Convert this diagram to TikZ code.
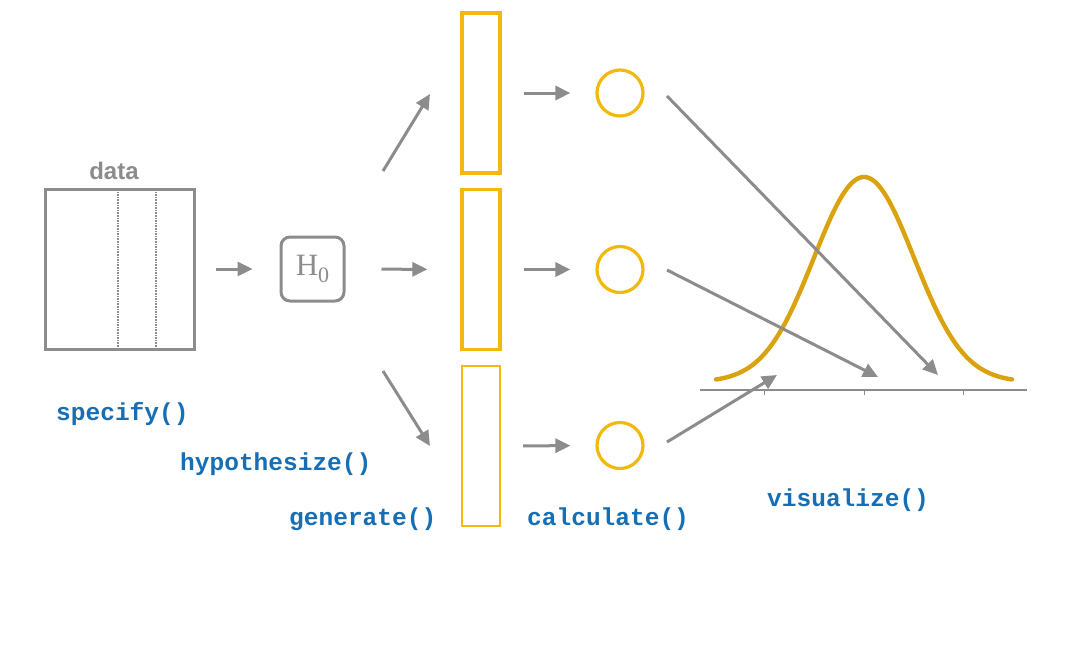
\documentclass[tikz,border=0pt]{standalone}
\usepackage{fontspec}
\setmainfont{Liberation Serif}
\newfontfamily\codefont{Liberation Mono}
\newfontfamily\labelfont{Liberation Sans}
\usetikzlibrary{arrows.meta}
\definecolor{flowgray}{RGB}{140,140,140}
\definecolor{sampleyellow}{RGB}{243,184,12}
\definecolor{curvegold}{RGB}{218,163,14}
\definecolor{codeblue}{RGB}{22,110,180}
\begin{document}
\begin{tikzpicture}[x=1pt,y=-1pt,
  flow/.style={draw=flowgray,line width=3pt,-{Triangle[length=15pt,width=14pt]}},
  sample/.style={draw=sampleyellow,line width=3.2pt,minimum width=38pt,minimum height=160pt,inner sep=0pt},
  stat/.style={circle,draw=sampleyellow,line width=3.2pt,minimum size=46pt,inner sep=0pt},
  code/.style={text=codeblue,font=\codefont\bfseries\fontsize{24.5}{26}\selectfont,inner sep=0pt,anchor=west}]
\useasboundingbox (0,0) rectangle (1080,662);

% data table
\node[draw=flowgray,line width=3pt,minimum width=149pt,minimum height=160pt,inner sep=0pt] (data) at (119.5,269) {};
\draw[flowgray,line width=1.6pt,densely dotted] (118,189) -- (118,349) (156,189) -- (156,349) (118,189) -- (156,189) (118,349) -- (156,349);
\node[text=flowgray,font=\labelfont\bfseries\fontsize{24}{25}\selectfont,inner sep=0pt] (datalbl) at (114,171) {data};

% null hypothesis
\node[draw=flowgray,line width=3pt,rounded corners=9pt,minimum width=63pt,minimum height=64pt,inner sep=0pt,
      text=flowgray,font=\fontsize{31}{32}\selectfont] (h0) at (312.5,269)
      {H\raisebox{-0.22em}{\fontsize{22}{22}\selectfont 0}};
\draw[flow,shorten <=20pt,shorten >=27pt] (data.east) -- (h0.west);

% generated samples
\node[sample] (s1) at (481,93) {};
\node[sample] (s2) at (481,269.5) {};
\node[sample,line width=2.2pt] (s3) at (481,446) {};

\coordinate (u0) at (383,171); \coordinate (u1) at (430,94);
\coordinate (d0) at (383,371); \coordinate (d1) at (430,446);
\draw[flow] (u0) -- (u1);
\draw[flow,shorten <=36pt,shorten >=33pt] (h0.east) -- (s2.west);
\draw[flow] (d0) -- (d1);

% statistics
\node[stat] (c1) at (620,93) {};
\node[stat] (c2) at (620,269.5) {};
\node[stat] (c3) at (620,445.5) {};
\draw[flow,shorten <=22pt,shorten >=25pt] (s1.east) -- (c1.west);
\draw[flow,shorten <=22pt,shorten >=25pt] (s2.east) -- (c2.west);
\draw[flow,shorten <=22pt,shorten >=25pt] (s3.east) -- (c3.west);

% null distribution
\coordinate (axl) at (700,390); \coordinate (axr) at (1027,390);
\draw[flowgray,line width=2pt] (axl) -- (axr);
\foreach \t in {764,864,963} \draw[flowgray,line width=1pt] (\t,390) -- (\t,395);
\draw[curvegold,line width=4.4pt,line cap=round,domain=716:1012,samples=120,smooth]
  plot (\x,{382-205*exp(-2*((\x-864)/100)^2)});

% statistics mapped onto the distribution
\coordinate (o1) at (667,96);  \coordinate (t1) at (938,375);
\coordinate (o2) at (667,270); \coordinate (t2) at (878,377);
\coordinate (o3) at (667,442); \coordinate (t3) at (777,375);
\draw[flow] (o1) -- (t1);
\draw[flow] (o2) -- (t2);
\draw[flow] (o3) -- (t3);

% function labels
\node[code] (f1) at (56,414) {specify()};
\node[code] (f2) at (180,464) {hypothesize()};
\node[code] (f3) at (289,519) {generate()};
\node[code] (f4) at (527,519) {calculate()};
\node[code] (f5) at (767,500) {visualize()};
\end{tikzpicture}
\end{document}
